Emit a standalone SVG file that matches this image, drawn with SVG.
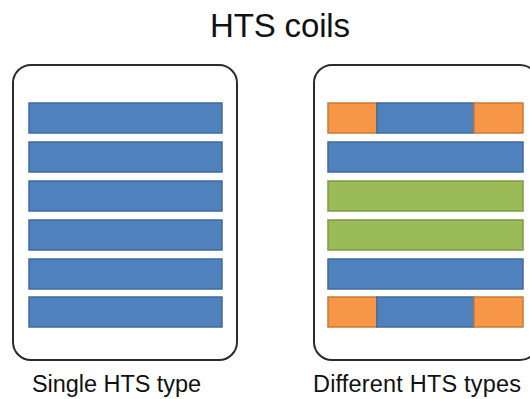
<svg xmlns="http://www.w3.org/2000/svg" width="530" height="399" viewBox="0 0 530 399">
<style>
.frame{fill:#fff;stroke:#2b2b2b;stroke-width:2}
.bar{stroke-width:1.5}
.b{fill:#4F81BD;stroke:#3F6A9C}
.o{fill:#F79646;stroke:#C77A3A}
.g{fill:#9BBB59;stroke:#7D9A46}
text{font-family:"Liberation Sans",Arial,sans-serif;fill:#111}
</style>
<rect width="530" height="399" fill="#fff"/>
<text x="280" y="37" font-size="33" text-anchor="middle" textLength="140">HTS coils</text>
<g id="coil-single">
<rect class="frame" x="13" y="65" width="224" height="295" rx="18"/>
<rect class="bar b" x="29" y="103" width="193" height="30"/>
<rect class="bar b" x="29" y="142" width="193" height="30"/>
<rect class="bar b" x="29" y="181" width="193" height="30"/>
<rect class="bar b" x="29" y="220" width="193" height="30"/>
<rect class="bar b" x="29" y="259" width="193" height="30"/>
<rect class="bar b" x="29" y="297" width="193" height="30"/>
</g>
<g id="coil-different">
<rect class="frame" x="314" y="65" width="224" height="295" rx="18"/>
<rect class="bar o" x="328" y="103" width="49" height="30"/>
<rect class="bar b" x="377" y="103" width="97" height="30"/>
<rect class="bar o" x="474" y="103" width="49" height="30"/>
<rect class="bar b" x="328" y="142" width="195" height="30"/>
<rect class="bar g" x="328" y="181" width="195" height="30"/>
<rect class="bar g" x="328" y="220" width="195" height="30"/>
<rect class="bar b" x="328" y="259" width="195" height="30"/>
<rect class="bar o" x="328" y="297" width="49" height="30"/>
<rect class="bar b" x="377" y="297" width="97" height="30"/>
<rect class="bar o" x="474" y="297" width="49" height="30"/>
</g>
<text x="32" y="392" font-size="23.5" textLength="169">Single HTS type</text>
<text x="313" y="392" font-size="23.5" textLength="208">Different HTS types</text>
</svg>
